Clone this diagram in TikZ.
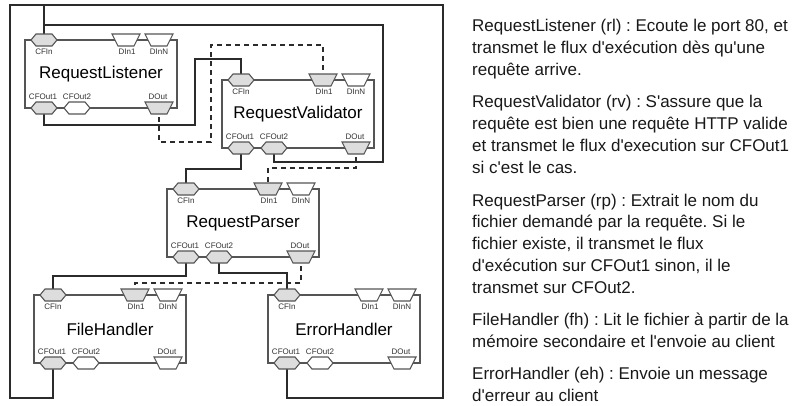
\documentclass[tikz,border=0pt]{standalone}
\usepackage{fontspec}
\setmainfont{Liberation Sans}[Ligatures=TeXOff]
\usetikzlibrary{backgrounds}
\definecolor{wirec}{HTML}{2B2B2B}
\definecolor{boxc}{HTML}{555555}
\definecolor{portfill}{HTML}{DDDDDD}
\frenchspacing
\newcommand\mkblock[7]{%
  \node[block] (#1) at ({#2+76},{#3+34}) {#4};
  \coordinate (#1-in) at ({#2+19},#3);
  \coordinate (#1-d1) at ({#2+101},#3);
  \coordinate (#1-dn) at ({#2+134},#3);
  \coordinate (#1-o1) at ({#2+19},{#3+68});
  \coordinate (#1-o2) at ({#2+52},{#3+68});
  \coordinate (#1-do) at ({#2+134},{#3+68});
  \pic at (#1-in) {hexport=portfill};
  \pic at (#1-d1) {trport=#5};
  \pic at (#1-dn) {trport=white};
  \pic at (#1-o1) {hexport=portfill};
  \pic at (#1-o2) {hexport=#6};
  \pic at (#1-do) {trport=#7};
  \node[plabel] (#1-lin) at ({#2+19},{#3+12}) {CFIn};
  \node[plabel] (#1-ld1) at ({#2+102},{#3+12}) {DIn1};
  \node[plabel] (#1-ldn) at ({#2+134},{#3+12}) {DInN};
  \node[plabel] (#1-lo1) at ({#2+18},{#3+57}) {CFOut1};
  \node[plabel] (#1-lo2) at ({#2+52},{#3+57}) {CFOut2};
  \node[plabel] (#1-ldo) at ({#2+133},{#3+57}) {DOut};
}
\begin{document}
\begin{tikzpicture}[x=1bp,y=-1bp,
  wire/.style={draw=wirec,line width=1.6bp},
  dwire/.style={wire,dash pattern=on 5bp off 4bp},
  block/.style={draw=boxc,line width=1.2bp,minimum width=152bp,minimum height=68bp,inner sep=0pt,font=\fontsize{17bp}{20bp}\selectfont},
  plabel/.style={font=\fontsize{8bp}{9bp}\selectfont,text=black!80,inner sep=0pt},
  desc/.style={font=\fontsize{17bp}{21.7bp}\selectfont,align=left,inner sep=0pt,anchor=base west,text=black!90},
  pics/hexport/.style={code={\draw[draw=boxc,line width=1.1bp,fill=#1] (-13,0) -- (-8,-6) -- (8,-6) -- (13,0) -- (8,6) -- (-8,6) -- cycle;}},
  pics/trport/.style={code={\draw[draw=boxc,line width=1.1bp,fill=#1] (-14,-6) -- (14,-6) -- (8,6) -- (-8,6) -- cycle;}},
]
\useasboundingbox (0,0) rectangle (796,405);

\mkblock{rl}{25}{40}{RequestListener}{white}{white}{portfill}
\mkblock{rv}{222}{80}{RequestValidator}{portfill}{portfill}{portfill}
\mkblock{rp}{167}{189}{RequestParser}{portfill}{portfill}{portfill}
\mkblock{fh}{34}{295}{FileHandler}{portfill}{white}{white}
\mkblock{eh}{268}{295}{ErrorHandler}{white}{white}{white}

\begin{pgfonlayer}{background}
\fill[white] (0,0) rectangle (796,405);
\draw[wire] (fh-o1) -- (fh-o1 |- 0,398) -| (10,5) -| (443,398) -| (eh-o1);
\draw[wire] (rl-in) -- (rl-in |- 0,5);
\draw[wire] (rv-o2) |- (383,162) |- (rl-in |- 0,25);
\draw[wire] (rl-o1) |- (195,125) -- (195,59) -| (rv-in);
\draw[wire] (rv-o1) -- ++(0,21) -| (rp-in);
\draw[wire] (rp-o1) -- ++(0,19) -| (fh-in);
\draw[wire] (rp-o2) -- ++(0,16) -| (eh-in);
\draw[dwire] (rl-do) |- (211,142) -- (211,45) -| (rv-d1);
\draw[dwire] (rv-do) -- ++(0,20) -| (rp-d1);
\draw[dwire] (rp-do) -- ++(0,26) -| (fh-d1);
\end{pgfonlayer}

\node[desc] (t1) at (472,75) {RequestListener (rl) : Ecoute le port 80, et\\transmet le flux d'exécution dès qu'une\\requête arrive.};
\node[desc] (t2) at (472,173) {RequestValidator (rv) : S'assure que la\\requête est bien une requête HTTP valide\\et transmet le flux d'execution sur CFOut1\\si c'est le cas.};
\node[desc] (t3) at (472,293) {RequestParser (rp) : Extrait le nom du\\fichier demandé par la requête. Si le\\fichier existe, il transmet le flux\\d'exécution sur CFOut1 sinon, il le\\transmet sur CFOut2.};
\node[desc] (t4) at (472,347) {FileHandler (fh) : Lit le fichier à partir de la\\mémoire secondaire et l'envoie au client};
\node[desc] (t5) at (472,401) {ErrorHandler (eh) : Envoie un message\\d'erreur au client};
\end{tikzpicture}
\end{document}
